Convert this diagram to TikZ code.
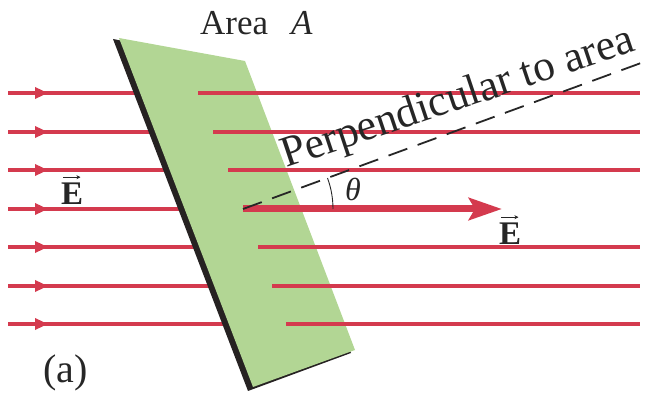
\documentclass[tikz,border=0pt]{standalone}
\usepackage{fontspec}
\setmainfont{Liberation Serif}
\usetikzlibrary{arrows.meta}
\definecolor{fieldred}{RGB}{212,58,78}
\definecolor{plategreen}{RGB}{178,214,148}
\definecolor{edgedark}{RGB}{38,34,34}
\begin{document}
\begin{tikzpicture}[x=1pt,y=1pt,
  fieldline/.style={draw=fieldred, line width=3.6pt},
  lbl/.style={inner sep=0pt, text=black!85},
  evec/.style={-{Stealth[length=4pt,width=4pt]}, line width=0.9pt, draw=black!85}]
\useasboundingbox (0,0) rectangle (646,394);
% left field lines (run under the plate)
\foreach \Y in {301,262,224,185,147,108,70}{
  \draw[fieldline] (8,\Y) -- (250,\Y);
  \draw[fieldline, -{Triangle[length=13pt,width=11pt]}] (8,\Y) -- (48,\Y);
}
% plate
\fill[edgedark] (113,355) -- (241,330) -- (351,41) -- (248,3) -- cycle;
\fill[plategreen] (119,356) -- (245,333) -- (355,44) -- (253,7) -- cycle;
% right field lines
\foreach \X/\Y in {198/301,213/262,228/224,258/147,272/108,286/70}{
  \draw[fieldline] (\X,\Y) -- (640,\Y);
}
% thick E arrow
\coordinate (O) at (243,185);
\coordinate (Etip) at (502,185);
\draw[draw=fieldred, line width=7pt, -{Stealth[length=33pt,width=22pt,inset=6pt]}] (O) -- (Etip);
% perpendicular dashed line
\coordinate (P) at (641,331);
\draw[black!85, line width=1.8pt, dash pattern=on 20pt off 11pt] (O) -- (P);
% theta arc
\draw[black!85, line width=0.9pt] (333,185) arc[start angle=0, end angle=20.1, radius=90];
\node[lbl, font=\fontsize{32}{36}\selectfont\itshape] (th) at (353,205) {θ};
% labels
\node[lbl, anchor=base west, font=\fontsize{35}{40}\selectfont] (area) at (200,359) {Area};
\node[lbl, anchor=base west, font=\fontsize{35}{40}\selectfont\itshape] (A) at (291,359) {A};
\node[lbl, anchor=base west, font=\fontsize{40}{44}\selectfont] (a) at (43,12) {(a)};
\node[lbl, anchor=base west, rotate=18.5, font=\fontsize{43.5}{48}\selectfont] (perp) at (286,226) {Perpendicular to area};
\node[lbl, anchor=base west, font=\fontsize{33}{38}\selectfont\bfseries] (E1) at (61,189) {E};
\draw[evec] ([xshift=2pt,yshift=6pt]E1.north west) -- ([xshift=-3pt,yshift=6pt]E1.north east);
\node[lbl, anchor=base west, font=\fontsize{33}{38}\selectfont\bfseries] (E2) at (499,149) {E};
\draw[evec] ([xshift=2pt,yshift=6pt]E2.north west) -- ([xshift=-3pt,yshift=6pt]E2.north east);
\end{tikzpicture}
\end{document}
